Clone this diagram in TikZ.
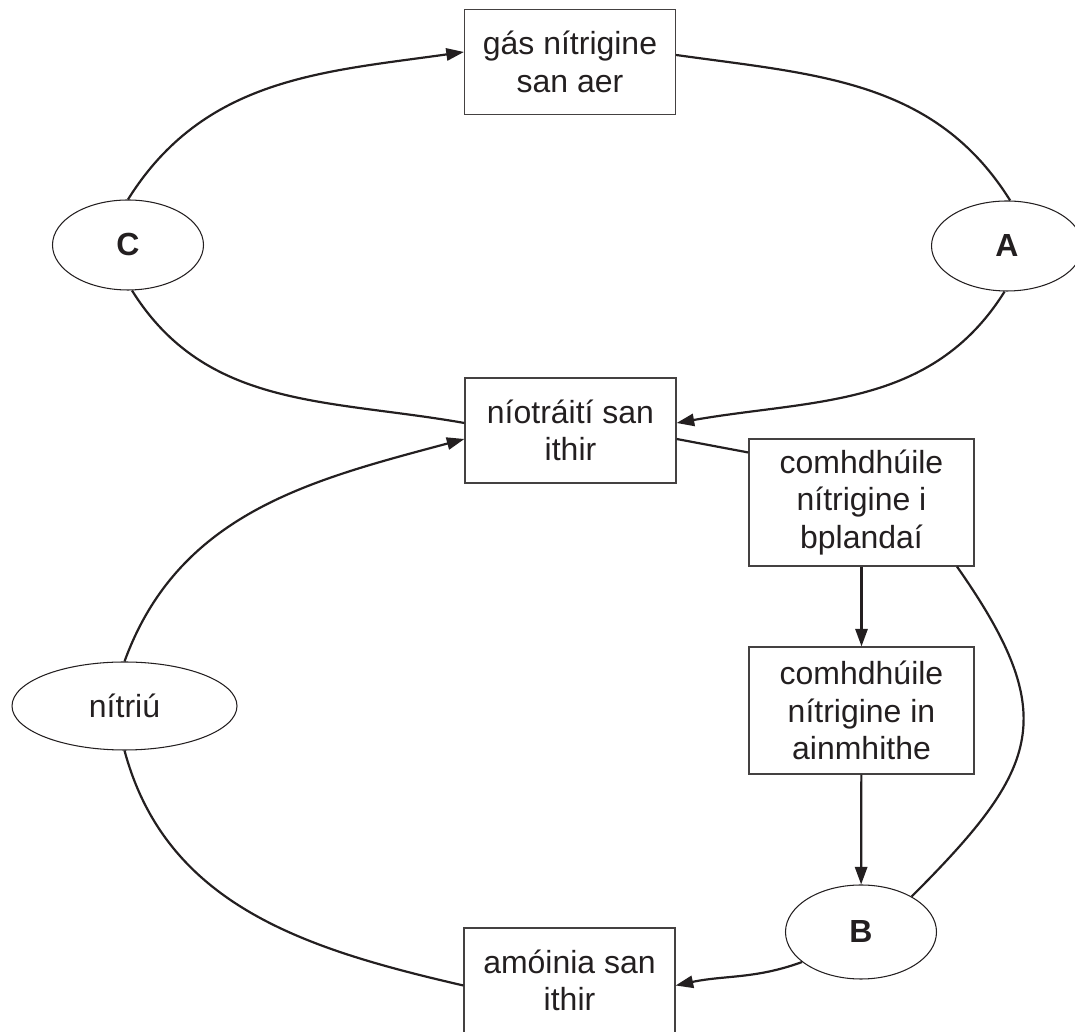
\documentclass[tikz,border=0pt]{standalone}
\usepackage{fontspec}
\setmainfont{Liberation Sans}
\usetikzlibrary{arrows.meta,shapes.geometric}
\definecolor{Ink}{HTML}{231F20}

\begin{document}
\begin{tikzpicture}[>={Triangle[length=10pt,width=7pt]},
    every node/.style={font=\fontsize{18.2}{21.3}\selectfont,text=Ink},
    box/.style={draw=Ink!85,line width=0.7pt,align=center,minimum width=4.22cm,minimum height=2.1cm},
    widebox/.style={box,minimum width=4.5cm,minimum height=2.54cm},
    oval/.style={ellipse,draw=Ink,line width=0.6pt,minimum width=3.02cm,minimum height=1.8cm,inner sep=0pt},
    flow/.style={line width=1.25pt,draw=Ink}]
  \useasboundingbox (0,0) rectangle (21.5,20.64);

  % boxes
  \node[box] (gas) at (11.40,19.40) {gás nítrigine\\san aer};
  \node[box] (niot) at (11.41,12.03) {níotráití san\\ithir};
  \node[widebox] (plan) at (17.23,10.59) {comhdhúile\\nítrigine i\\bplandaí};
  \node[widebox] (ainm) at (17.23,6.43) {comhdhúile\\nítrigine in\\ainmhithe};
  \node[box] (amo) at (11.39,1.03) {amóinia san\\ithir};

  % processes
  \node[oval] (C) at (2.56,15.74) {\bfseries C};
  \node[oval] (A) at (20.14,15.72) {\bfseries A};
  \node[oval,minimum width=4.5cm,minimum height=1.76cm] (nitr) at (2.49,6.52) {nítriú};
  \node[oval,minimum height=1.88cm] (B) at (17.22,2.00) {\bfseries B};

  % upper cycle
  \draw[flow,->] (C.north) to[out=58,in=188] ([yshift=2mm]gas.west);
  \draw[flow] ([yshift=1.4mm]gas.east) to[out=-8,in=122] (A.86);
  \draw[flow,->] (A.-93) to[out=238,in=10] ([yshift=1.5mm]niot.east);
  \draw[flow] ([yshift=1.5mm]niot.west) to[out=170,in=-58] (C.-85);

  % lower cycle
  \draw[flow,->] (nitr.north) to[out=70,in=195] ([yshift=-1.7mm]niot.west);
  \draw[flow] ([yshift=-1mm]amo.west) to[out=167,in=-75] (nitr.south);
  \draw[flow,->] (B.207) to[out=200,in=12] ([yshift=-1mm]amo.east);
  \draw[flow] ([yshift=-1.7mm]niot.east) -- ([yshift=1cm]plan.west);
  \draw[flow,->] (plan) -- (ainm);
  \draw[flow,->] (ainm) -- (B);
  \draw[flow] ([xshift=1.91cm]plan.south) to[out=-55,in=45,looseness=1.4] (B.35);
\end{tikzpicture}
\end{document}
